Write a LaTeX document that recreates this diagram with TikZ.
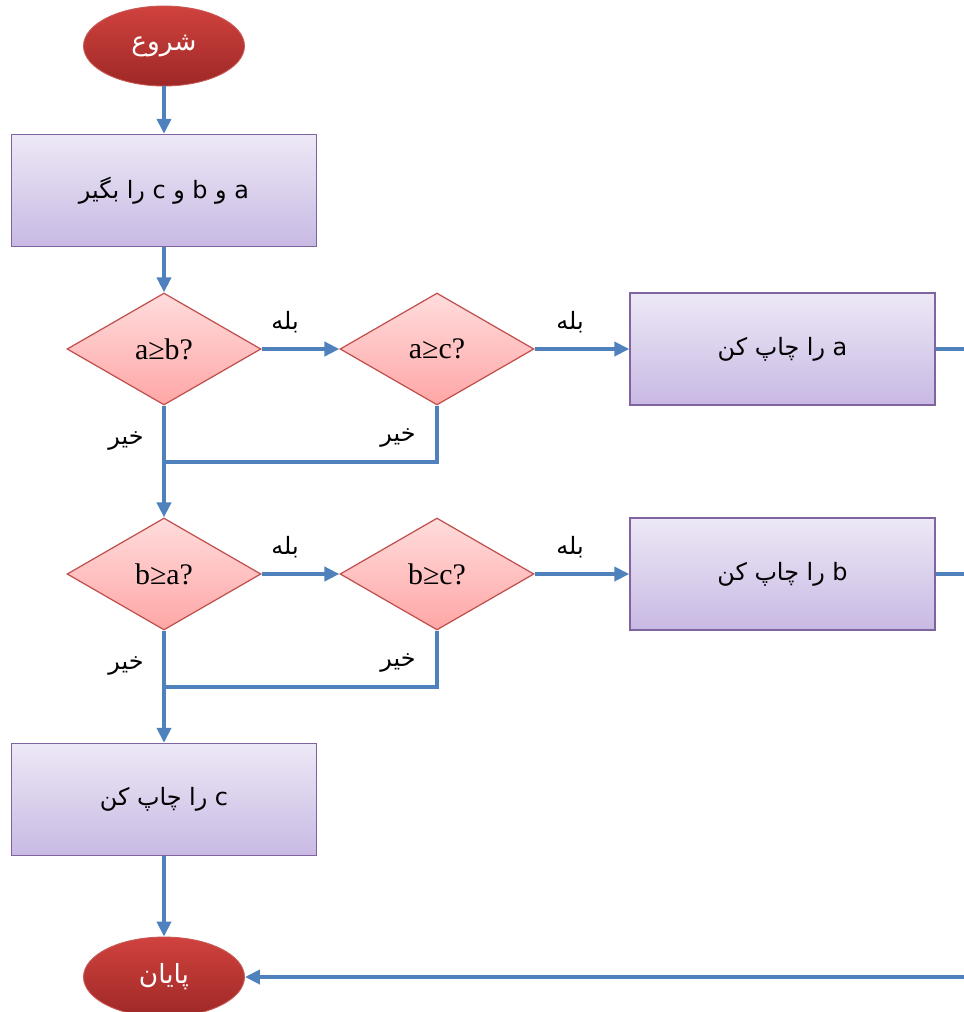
\documentclass[tikz,border=0pt]{standalone}
\usepackage{fontspec}
\setmainfont{Liberation Serif}
\newfontfamily\arabicfont[Script=Arabic]{DejaVu Sans}
\TeXXeTstate=1
\usetikzlibrary{shapes.geometric,arrows.meta}
\definecolor{lineblue}{RGB}{79,129,189}
\definecolor{dborder}{RGB}{192,80,77}
\definecolor{dtop}{RGB}{255,220,220}
\definecolor{dbot}{RGB}{255,166,166}
\definecolor{bborder}{RGB}{128,100,162}
\definecolor{btop}{RGB}{237,232,246}
\definecolor{bbot}{RGB}{200,185,227}
\definecolor{etop}{RGB}{208,66,62}
\definecolor{ebot}{RGB}{158,40,38}
\definecolor{eborder}{RGB}{200,90,85}
\tikzset{
  procbox/.style={rectangle, draw=bborder, line width=0.8pt, top color=btop, bottom color=bbot,
    minimum width=6.1cm, minimum height=2.24cm, inner sep=0pt,
    font=\arabicfont\fontsize{13.6}{16}\selectfont},
  decbox/.style={diamond, draw=dborder, line width=0.7pt, top color=dtop, bottom color=dbot,
    minimum width=3.88cm, minimum height=2.24cm, inner sep=0pt,
    font=\fontsize{17}{19}\selectfont},
  termbox/.style={ellipse, draw=eborder, line width=0.5pt, top color=etop, bottom color=ebot,
    minimum width=3.22cm, minimum height=1.6cm, inner sep=0pt, text=white,
    font=\arabicfont\fontsize{15}{17}\selectfont},
  lbl/.style={font=\arabicfont\fontsize{13.6}{16}\selectfont, inner sep=0pt},
  ln/.style={draw=lineblue, line width=2.3pt, line join=miter},
  arr/.style={ln, -{Triangle[length=0.3cm,width=0.28cm]}}
}
\begin{document}
\begin{tikzpicture}[x=0.02cm,y=-0.02cm]
\useasboundingbox (0,0) rectangle (964,1012);
\node[termbox] (start) at (164,46) {\beginR شروع\endR};
\node[procbox] (in) at (164,190.5) {\beginR a و b و c را بگیر\endR};
\node[decbox] (d1) at (164,349) {a≥b?};
\node[decbox] (d2) at (437,349) {a≥c?};
\node[procbox] (pa) at (782.5,349) {\beginR a را چاپ کن\endR};
\node[decbox] (d3) at (164,574) {b≥a?};
\node[decbox] (d4) at (437,574) {b≥c?};
\node[procbox] (pb) at (782.5,574) {\beginR b را چاپ کن\endR};
\node[procbox] (pc) at (164,799.5) {\beginR c را چاپ کن\endR};
\node[termbox] (end) at (164,977) {\beginR پایان\endR};
\coordinate (j1) at (164,462);
\coordinate (j2) at (164,687);
\coordinate (ra) at (964,349);
\coordinate (rb) at (964,574);
\coordinate (re) at (964,977);
\node[lbl] (y1) at (285,322) {\beginR بله\endR};
\node[lbl] (y2) at (570,322) {\beginR بله\endR};
\node[lbl] (y3) at (285,547) {\beginR بله\endR};
\node[lbl] (y4) at (570,547) {\beginR بله\endR};
\node[lbl] (n1) at (126,441) {\beginR خیر\endR};
\node[lbl] (n2) at (398,438) {\beginR خیر\endR};
\node[lbl] (n3) at (126,666) {\beginR خیر\endR};
\node[lbl] (n4) at (398,663) {\beginR خیر\endR};
\draw[arr] (start) -- (in);
\draw[arr] (in) -- (d1);
\draw[arr] (d1) -- (d2);
\draw[arr] (d2) -- (pa);
\draw[ln] (pa.east) -- (ra);
\draw[ln] (d2.south) |- (j1);
\draw[arr] (d1.south) -- (d3.north);
\draw[arr] (d3) -- (d4);
\draw[arr] (d4) -- (pb);
\draw[ln] (pb.east) -- (rb);
\draw[ln] (d4.south) |- (j2);
\draw[arr] (d3.south) -- (pc.north);
\draw[arr] (pc) -- (end);
\draw[arr] (re) -- (end);
\end{tikzpicture}
\end{document}
